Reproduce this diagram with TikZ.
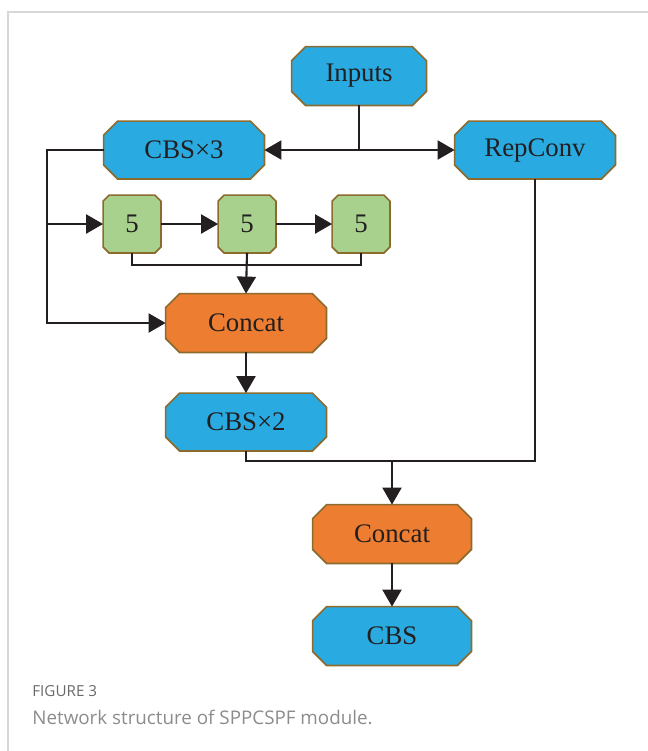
\documentclass[tikz,border=0pt]{standalone}
\usepackage{fontspec}
\setmainfont{Liberation Serif}
\newfontfamily\capfont{Open Sans}
\usetikzlibrary{arrows.meta,backgrounds}

\definecolor{boxblue}{RGB}{41,171,226}
\definecolor{boxorange}{RGB}{237,125,49}
\definecolor{boxgreen}{RGB}{169,209,142}
\definecolor{boxedge}{RGB}{139,107,46}
\definecolor{wirecol}{RGB}{35,31,32}
\definecolor{framegray}{RGB}{215,215,215}
\definecolor{capgray}{RGB}{140,140,140}
\definecolor{figgray}{RGB}{105,105,105}

\tikzset{
  blk/.style={minimum width=80pt, minimum height=28.5pt, inner sep=0pt,
    text=wirecol, font=\fontsize{13.4}{15}\selectfont},
  pool/.style={blk, minimum width=28.5pt},
  octline/.style={draw=boxedge, line width=0.85pt},
  wire/.style={draw=wirecol, line width=1.05pt},
  arr/.style={wire, -{Triangle[length=8.5pt,width=9.5pt]}},
}

% octagon behind a named node: name, chamfer, fill
\newcommand\octo[3]{%
  \draw[octline, fill=#3] ([xshift=#2]#1.north west) -- ([xshift=-#2]#1.north east)
    -- ([yshift=-#2]#1.north east) -- ([yshift=#2]#1.south east)
    -- ([xshift=-#2]#1.south east) -- ([xshift=#2]#1.south west)
    -- ([yshift=#2]#1.south west) -- ([yshift=-#2]#1.north west) -- cycle;}

\begin{document}
\begin{tikzpicture}[x=0.5pt, y=-0.5pt]
  \useasboundingbox (0,0) rectangle (648,751);
  \draw[framegray, line width=0.75pt] (648,12) -- (8,12) -- (8,751);

  % blocks
  \node[blk, minimum width=67pt, minimum height=29pt] (inp) at (359,76) {Inputs};
  \node[blk] (cbsa) at (184,150) {CBS×3};
  \node[blk] (rep) at (535,150) {RepConv};
  \node[pool] (mp1) at (132,224) {5};
  \node[pool] (mp2) at (247,224) {5};
  \node[pool] (mp3) at (361,224) {5};
  \node[blk, minimum height=29pt] (cat1) at (246,323) {Concat};
  \node[blk] (cbsb) at (246,422) {CBS×2};
  \node[blk, minimum width=79pt, minimum height=29pt] (cat2) at (392,534) {Concat};
  \node[blk, minimum width=79pt, minimum height=29pt] (cbs) at (392,636) {CBS};

  \begin{scope}[on background layer]
    \octo{inp}{7pt}{boxblue}
    \octo{cbsa}{7pt}{boxblue}
    \octo{rep}{7pt}{boxblue}
    \octo{cbsb}{7pt}{boxblue}
    \octo{cbs}{7pt}{boxblue}
    \octo{cat1}{7pt}{boxorange}
    \octo{cat2}{7pt}{boxorange}
    \foreach \n in {mp1,mp2,mp3} {\octo{\n}{3pt}{boxgreen}}
  \end{scope}

  \coordinate (rail) at (47,150);
  \coordinate (bus1) at (247,265);
  \coordinate (bus2) at (392,461);

  % connectors
  \draw[arr] (inp.south) |- (cbsa.east);
  \draw[arr] (inp.south) |- (rep.west);
  \draw[arr] (cbsa.west) -- (rail) |- (cat1.west);
  \draw[arr] (rail |- mp1.west) -- (mp1.west);
  \draw[arr] (mp1.east) -- (mp2.west);
  \draw[arr] (mp2.east) -- (mp3.west);
  \draw[wire] (mp1.south) |- (bus1) -| (mp3.south);
  \draw[arr] (mp2.south) -- (cat1.north);
  \draw[arr] (cat1.south) -- (cbsb.north);
  \draw[wire] (cbsb.south) |- (bus2) -| (rep.south);
  \draw[arr] (bus2) -- (cat2.north);
  \draw[arr] (cat2.south) -- (cbs.north);

  % caption
  \node[anchor=west, inner sep=0pt, text=figgray, font=\capfont\fontsize{7.6}{9}\selectfont]
    (fig) at (32,691) {FIGURE 3};
  \node[anchor=west, inner sep=0pt, text=capgray, font=\capfont\fontsize{9.4}{11}\selectfont]
    (cap) at (32,717) {Network structure of SPPCSPF module.};
\end{tikzpicture}
\end{document}
